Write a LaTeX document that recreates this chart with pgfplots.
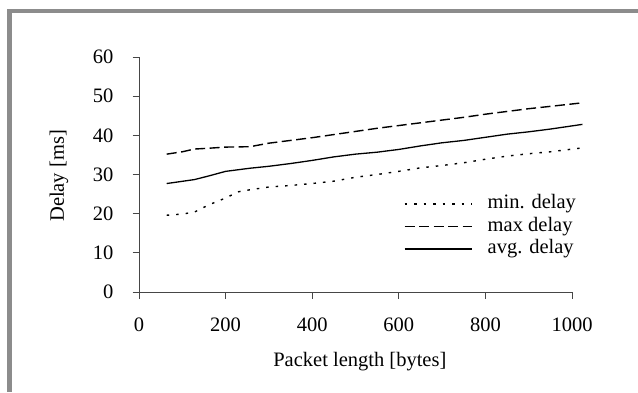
\documentclass[border=0pt]{standalone}
\usepackage{fontspec}
\setmainfont{Liberation Serif}
\usepackage{pgfplots}
\pgfplotsset{compat=1.18}
\definecolor{framegray}{RGB}{140,140,140}
\definecolor{axgray}{RGB}{70,70,70}
\begin{document}
\fontsize{20.5bp}{24bp}\selectfont
\begin{tikzpicture}[x=1bp,y=1bp]
\useasboundingbox (0,0) rectangle (638,392);
\fill[framegray] (7,0) rectangle (12,383);
\fill[framegray] (7,379) rectangle (638,383);
\begin{axis}[
  at={(139bp,100bp)}, anchor=south west,
  scale only axis, width=433bp, height=235bp,
  xmin=0, xmax=1000, ymin=0, ymax=60,
  axis lines=left,
  axis line style={-, axgray, line width=0.8bp},
  xtick={0,200,...,1000}, ytick={0,10,...,60},
  tick align=outside, major tick length=6.5bp,
  tick style={axgray, line width=0.8bp},
  /pgf/number format/assume math mode=true,
  /pgf/number format/1000 sep={},
  ticklabel style={font=\fontsize{20.5bp}{24bp}\selectfont, inner sep=0pt},
  xticklabel style={yshift=-19bp},
  yticklabel style={xshift=-19bp},
  clip=false,
  xlabel={Packet length [bytes]},
  ylabel={Delay [ms]},
  label style={font=\fontsize{20.5bp}{24bp}\selectfont},
  xlabel style={at={(axis description cs:0.51,-0.298)}, anchor=center},
  ylabel style={at={(axis description cs:-0.185,0.494)}, anchor=center},
  legend style={draw=none, fill=none, at={(1.02,0.43)}, anchor=north east,
    font=\fontsize{20.5bp}{24bp}\selectfont,
    nodes={inner sep=1.5bp, text height=14bp, text depth=5bp},
    row sep=0.5bp, column sep=14bp},
  legend cell align=left,
  legend image code/.code={\draw[#1] (0bp,0bp) -- (67bp,0bp);},
]
\addplot[black, line width=1.4bp, dash pattern=on 2.5bp off 7bp] coordinates {
(64,19.6)(100,19.9)(128,20.4)(160,22.2)(200,24.0)(230,25.6)(256,26.1)(300,26.8)
(350,27.2)(400,27.7)(450,28.3)(500,29.3)(550,30.0)(600,30.8)(650,31.7)(700,32.3)
(750,33.0)(800,33.9)(850,34.7)(900,35.3)(950,35.8)(1024,36.8)};
\addlegendentry{min. delay}
\addplot[black, line width=1.4bp, dash pattern=on 10bp off 4.5bp] coordinates {
(64,35.2)(100,35.8)(128,36.5)(160,36.7)(200,37.0)(256,37.1)(300,38.0)(350,38.7)
(400,39.4)(450,40.2)(500,41.0)(550,41.8)(600,42.5)(650,43.2)(700,43.9)(750,44.6)
(800,45.4)(850,46.1)(900,46.8)(950,47.4)(1024,48.3)};
\addlegendentry{max delay}
\addplot[black, line width=1.3bp] coordinates {
(64,27.7)(90,28.1)(128,28.7)(160,29.6)(200,30.8)(256,31.6)(300,32.1)(350,32.8)
(400,33.6)(450,34.5)(500,35.2)(550,35.7)(600,36.4)(650,37.3)(700,38.1)(750,38.7)
(800,39.5)(850,40.3)(900,40.9)(950,41.6)(1024,42.8)};
\addlegendentry{avg. delay}
\end{axis}
\end{tikzpicture}
\end{document}
